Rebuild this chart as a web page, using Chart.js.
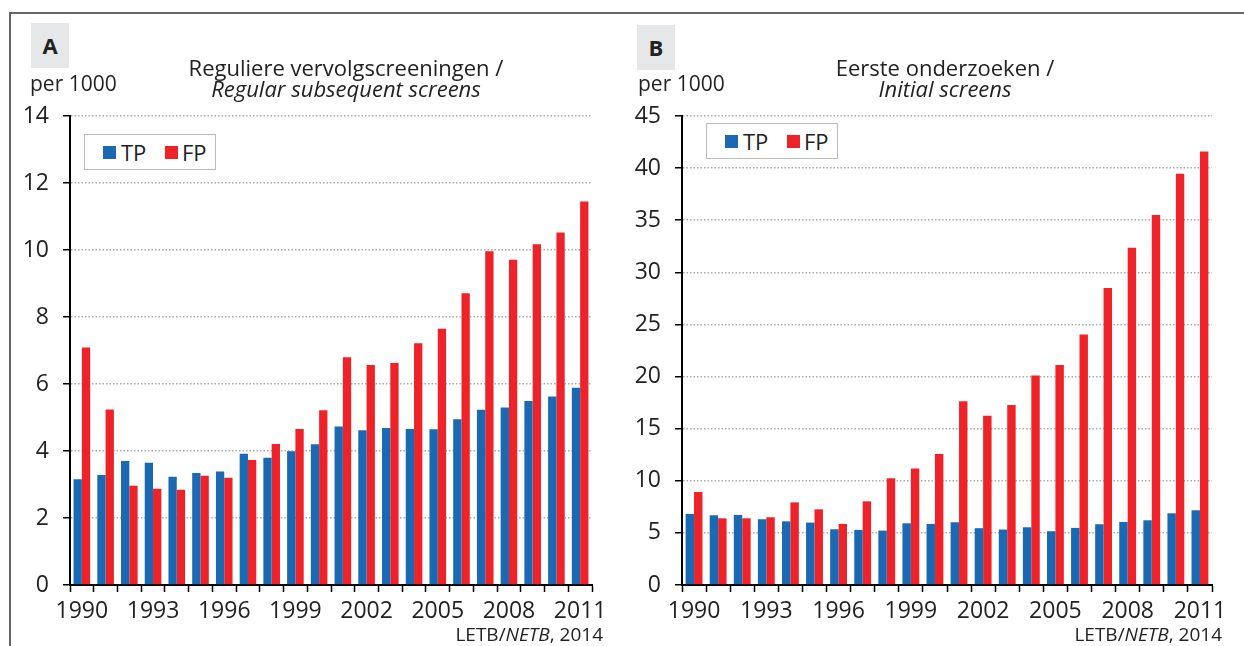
<!DOCTYPE html>
<html lang="nl">
<head>
  <meta charset="UTF-8" />
  <title>TP / FP per 1000</title>
  <script src="https://cdn.jsdelivr.net/npm/chart.js"></script>
  <style>
    body { margin: 0; background: #fff; font-family: "Open Sans", sans-serif; color: #222; }
    #wrap { position: relative; width: 1244px; height: 646px; overflow: hidden; }
    .frame { position: absolute; left: 9px; top: 12px; width: 1300px; height: 700px; border-top: 2px solid #666; border-left: 2px solid #666; }
    canvas { position: absolute; top: 0; }
    .tag { position: absolute; width: 38px; height: 45px; background: #e6e7e8; font-weight: bold; font-size: 22px; line-height: 45px; text-align: center; }
    .unit { position: absolute; font-size: 21px; line-height: 20px; }
    .title { position: absolute; font-size: 22px; line-height: 20px; text-align: center; width: 400px; }
    .legend { position: absolute; width: 130px; height: 34px; border: 1.5px solid #bbb; background: #fff; }
    .legend .sq { position: absolute; top: 11px; width: 13px; height: 13px; }
    .legend .lb { position: absolute; top: 0; font-size: 22px; line-height: 34px; }
    .src { position: absolute; font-size: 19px; line-height: 20px; text-align: right; width: 300px; }
  </style>
</head>
<body>
<div id="wrap">
  <div class="frame"></div>
  <canvas id="chartA" width="620" height="646" style="left:0"></canvas>
  <canvas id="chartB" width="624" height="646" style="left:620px"></canvas>

  <!-- panel A -->
  <div class="tag" style="left:31px; top:23px">A</div>
  <div class="unit" style="left:30px; top:73px">per 1000</div>
  <div class="title" style="left:146px; top:57px">Reguliere vervolgscreeningen /</div>
  <div class="title" style="left:146px; top:78px"><i>Regular subsequent screens</i></div>
  <div class="legend" style="left:84px; top:134px">
    <div class="sq" style="left:18px; background:#1a69b2"></div><div class="lb" style="left:36px">TP</div>
    <div class="sq" style="left:80px; background:#ee2229"></div><div class="lb" style="left:97px">FP</div>
  </div>
  <div class="src" style="left:303px; top:624px">LETB/<i>NETB</i>, 2014</div>

  <!-- panel B -->
  <div class="tag" style="left:637px; top:25px">B</div>
  <div class="unit" style="left:638px; top:73px">per 1000</div>
  <div class="title" style="left:745px; top:57px">Eerste onderzoeken /</div>
  <div class="title" style="left:745px; top:78px"><i>Initial screens</i></div>
  <div class="legend" style="left:706px; top:123px">
    <div class="sq" style="left:18px; background:#1a69b2"></div><div class="lb" style="left:36px">TP</div>
    <div class="sq" style="left:80px; background:#ee2229"></div><div class="lb" style="left:97px">FP</div>
  </div>
  <div class="src" style="left:922px; top:624px">LETB/<i>NETB</i>, 2014</div>
</div>

<script>
  // jaren en getoonde jaarlabels
  const years = ['1990','1991','1992','1993','1994','1995','1996','1997','1998','1999','2000',
                 '2001','2002','2003','2004','2005','2006','2007','2008','2009','2010','2011'];
  const shownYears = ['1990','1993','1996','1999','2002','2005','2008','2011'];

  // A: reguliere vervolgscreeningen (per 1000)
  const tpA = [3.16,3.28,3.70,3.65,3.23,3.34,3.39,3.92,3.80,3.99,4.20,
               4.73,4.62,4.69,4.66,4.65,4.95,5.23,5.30,5.49,5.63,5.89];
  const fpA = [7.09,5.24,2.96,2.87,2.84,3.26,3.20,3.73,4.21,4.66,5.22,
               6.80,6.57,6.63,7.22,7.65,8.71,9.96,9.71,10.17,10.52,11.45];

  // B: eerste onderzoeken (per 1000)
  const tpB = [6.82,6.69,6.72,6.31,6.11,5.99,5.35,5.29,5.22,5.92,5.86,
               6.02,5.45,5.32,5.54,5.16,5.48,5.83,6.05,6.21,6.88,7.17];
  const fpB = [8.92,6.40,6.40,6.50,7.93,7.26,5.86,8.03,10.25,11.18,12.58,
               17.64,16.24,17.26,20.10,21.11,24.03,28.49,32.37,35.50,39.45,41.59];

  const BLUE = '#1a69b2';
  const RED = '#ee2229';

  Chart.defaults.font.family = '"Open Sans", sans-serif';
  Chart.defaults.color = '#222';

  function maakGrafiek(id, tp, fp, yMax, yStep, yWidth, padRight) {
    return new Chart(document.getElementById(id), {
      type: 'bar',
      data: {
        labels: years,
        datasets: [
          { label: 'TP', data: tp, backgroundColor: BLUE, barPercentage: 1.0, categoryPercentage: 0.7 },
          { label: 'FP', data: fp, backgroundColor: RED, barPercentage: 1.0, categoryPercentage: 0.7 }
        ]
      },
      options: {
        responsive: false,
        animation: false,
        devicePixelRatio: 1,
        layout: { padding: { top: 116, right: padRight, left: 0, bottom: 0 } },
        plugins: { legend: { display: false }, tooltip: { enabled: false } },
        scales: {
          x: {
            grid: { drawOnChartArea: false, tickLength: 7, tickColor: '#000', tickWidth: 1.5, offset: true },
            border: { color: '#000', width: 2 },
            ticks: {
              autoSkip: false, maxRotation: 0, padding: 6,
              font: { size: 23 },
              callback: function (v, i) { return shownYears.includes(years[i]) ? years[i] : ''; }
            },
            afterFit: function (s) { s.height = 61; s.paddingLeft = 0; s.paddingRight = 0; }
          },
          y: {
            min: 0, max: yMax,
            grid: { color: '#aaa', lineWidth: 1.5, tickLength: 7, tickColor: '#000', tickWidth: 1.5 },
            border: { color: '#000', width: 2, dash: [1.5, 2] },
            ticks: { stepSize: yStep, padding: 14, font: { size: 23 } },
            afterFit: function (s) { s.width = yWidth; s.paddingTop = 0; s.paddingBottom = 0; }
          }
        }
      }
    });
  }

  maakGrafiek('chartA', tpA, fpA, 14, 2, 70, 28);
  maakGrafiek('chartB', tpB, fpB, 45, 5, 62, 32);
</script>
</body>
</html>
